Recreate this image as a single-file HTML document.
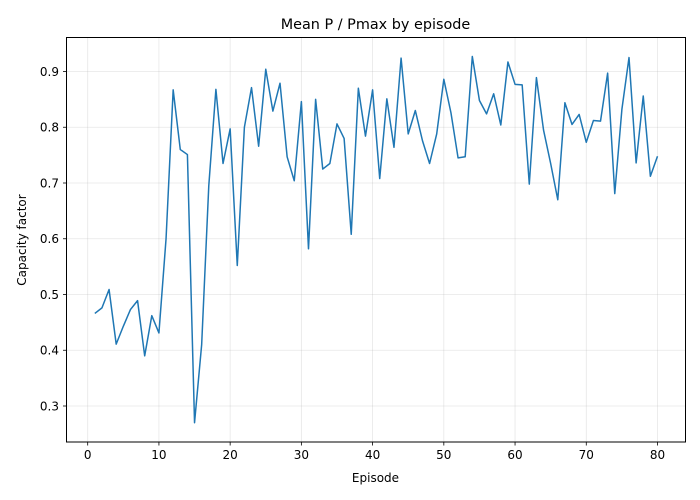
<!DOCTYPE html>
<html><head><meta charset="utf-8"><style>
body{margin:0;background:#fff;}
svg{display:block;font-family:"DejaVu Sans","Liberation Sans",sans-serif;}
</style></head><body>
<svg id="chart" width="700" height="500" viewBox="0 0 700 500" xmlns="http://www.w3.org/2000/svg">
<rect width="700" height="500" fill="#fff"/>
<g id="grid"></g>
<g id="xticks"></g>
<g id="yticks"></g>
<path id="line" fill="none" stroke="#1f77b4" stroke-width="1.5" stroke-linejoin="round"/>
<rect x="66.5" y="37.5" width="619" height="404.5" fill="none" stroke="#000" stroke-width="1"/>
<text x="375.5" y="29" text-anchor="middle" font-size="14.4">Mean P / Pmax by episode</text>
<text x="375.5" y="482" text-anchor="middle" font-size="12">Episode</text>
<text transform="translate(26,240) rotate(-90)" text-anchor="middle" font-size="12">Capacity factor</text>
</svg>
<script>
const episodes=[];for(let i=1;i<=80;i++)episodes.push(i);
const values=[.466,.476,.509,.411,.443,.473,.489,.390,.462,.431,.600,.867,.760,.751,.270,.410,.695,.868,.735,.797,.552,.800,.871,.766,.904,.829,.879,.747,.704,.846,.582,.850,.725,.735,.806,.780,.608,.870,.784,.867,.708,.851,.764,.924,.788,.830,.776,.735,.788,.886,.826,.745,.747,.927,.848,.824,.860,.804,.917,.877,.876,.698,.889,.795,.735,.670,.844,.805,.823,.773,.812,.811,.897,.681,.832,.925,.736,.856,.712,.748];
const xTicks=[0,10,20,30,40,50,60,70,80];
const yTicks=[0.3,0.4,0.5,0.6,0.7,0.8,0.9];
const NS="http://www.w3.org/2000/svg";
function xs(v){return 87.7+v*(657.5-87.7)/80;}
function ys(v){return 71.5+(0.9-v)*557.5;}
const grid=document.getElementById('grid'),gx=document.getElementById('xticks'),gy=document.getElementById('yticks');
function mk(tag,attrs,parent){const e=document.createElementNS(NS,tag);for(const k in attrs)e.setAttribute(k,attrs[k]);parent.appendChild(e);return e;}
xTicks.forEach(t=>{const x=xs(t);
const g=mk('line',{x1:x,x2:x,y1:37.5,y2:442,stroke:'#b0b0b0','stroke-opacity':0.3,'stroke-width':0.8},grid);


const tk=mk('line',{x1:x,x2:x,y1:442,y2:445.5,stroke:'#000','stroke-width':0.8},gx);


const tx=mk('text',{x:x,y:459,'text-anchor':'middle','font-size':12},gx);tx.textContent=t;

});
yTicks.forEach(t=>{const y=ys(t);
const g=mk('line',{x1:66.5,x2:685.5,y1:y,y2:y,stroke:'#b0b0b0','stroke-opacity':0.3,'stroke-width':0.8},grid);


const tk=mk('line',{x1:63,x2:66.5,y1:y,y2:y,stroke:'#000','stroke-width':0.8},gy);


const tx=mk('text',{x:59,y:y+4.3,'text-anchor':'end','font-size':12},gy);tx.textContent=t.toFixed(1);

});
document.getElementById('line').setAttribute('d',values.map((v,i)=>(i?'L':'M')+xs(episodes[i]).toFixed(2)+','+ys(v).toFixed(2)).join(''));
</script>
</body></html>
